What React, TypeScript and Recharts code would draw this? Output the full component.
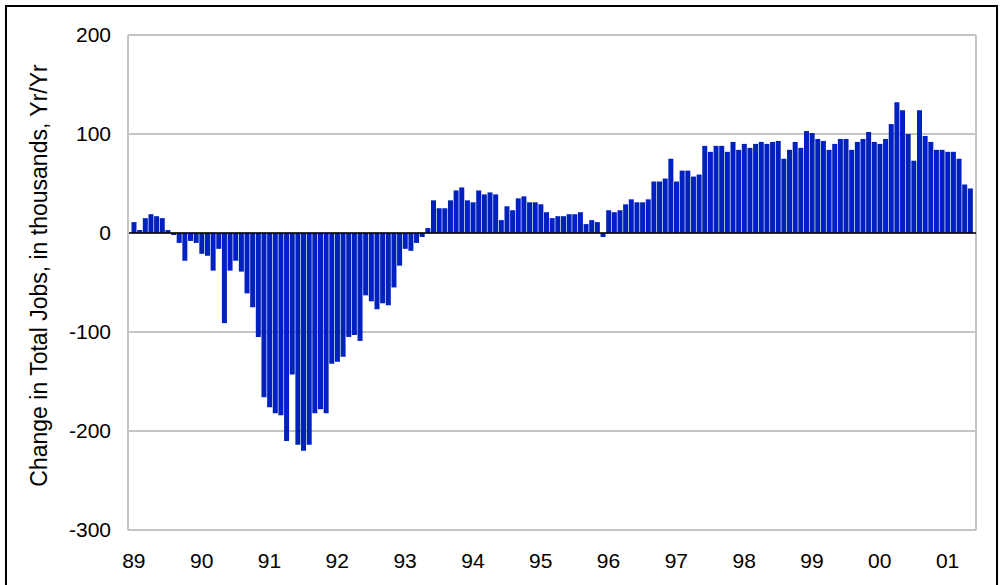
import React from 'react';
import {
  BarChart,
  Bar,
  XAxis,
  YAxis,
  CartesianGrid,
  ReferenceLine,
} from 'recharts';

// two-digit year labels, Jan 89 .. Jan 01
const yearLabels = ['89', '90', '91', '92', '93', '94', '95', '96', '97', '98', '99', '00', '01'];

// change in total jobs, thousands, yr/yr - monthly from Jan 89 to May 01
const jobChange = [
  11, 3, 15, 19, 17, 15, 3, -2, -10, -28, -8, -10,
  -21, -23, -38, -16, -91, -38, -28, -39, -61, -75, -105, -166,
  -176, -182, -184, -210, -143, -214, -220, -214, -182, -178, -182, -132,
  -130, -125, -105, -103, -109, -63, -69, -77, -71, -73, -55, -33,
  -16, -18, -10, -4, 5, 33, 25, 25, 33, 43, 46, 33,
  31, 43, 39, 41, 39, 13, 27, 23, 35, 37, 31, 31,
  29, 21, 15, 17, 17, 19, 19, 21, 9, 13, 11, -4,
  23, 21, 23, 29, 34, 31, 31, 34, 52, 52, 55, 75,
  52, 63, 63, 57, 59, 88, 82, 88, 88, 82, 92, 84,
  90, 86, 90, 92, 90, 92, 93, 75, 84, 92, 86, 103,
  101, 95, 93, 84, 90, 95, 95, 84, 92, 95, 102, 92,
  90, 95, 110, 132, 124, 100, 73, 124, 98, 92, 84, 84,
  82, 82, 75, 49, 45,
];

const yTicks = [-300, -200, -100, 0, 100, 200];

const data = jobChange.map((value, i) => ({
  month: `${yearLabels[Math.floor(i / 12)]}-${(i % 12) + 1}`,
  value,
}));

const font = '"Liberation Sans", Arial, sans-serif';
const gridColor = '#c4c4c4';

const YLabel = (props: any) => {
  const vb = props.viewBox || { x: 8, y: 35, width: 120, height: 495 };
  const cx = vb.x + 31;
  const cy = vb.y + vb.height / 2 - 7;
  return (
    <text
      x={cx}
      y={cy}
      transform={`rotate(-90, ${cx}, ${cy})`}
      textAnchor="middle"
      dominantBaseline="central"
      style={{ fontSize: 23, fontFamily: font, fill: '#000' }}
    >
      Change in Total Jobs, in thousands, Yr/Yr
    </text>
  );
};

export default function App() {
  return (
    <div style={{ position: 'absolute', left: 0, top: 0, width: 1003, height: 585, overflow: 'hidden', background: '#fff' }}>
      <div
        style={{
          position: 'absolute',
          left: 5,
          top: 5,
          width: 993,
          height: 700,
          border: '2px solid #000',
          boxSizing: 'border-box',
        }}
      />
      <div style={{ position: 'absolute', left: 0, top: 0 }}>
        <BarChart
          width={1003}
          height={585}
          data={data}
          margin={{ top: 35, right: 27, bottom: 25, left: 8 }}
          barCategoryGap={0.5}
        >
          <CartesianGrid
            stroke={gridColor}
            strokeWidth={2}
            verticalCoordinatesGenerator={({ offset }: any) => [offset.left, offset.left + offset.width]}
          />
          <XAxis
            dataKey="month"
            interval={11}
            tickFormatter={(v: string) => v.split('-')[0]}
            tickLine={false}
            axisLine={{ stroke: gridColor, strokeWidth: 2 }}
            tickMargin={17}
            padding={{ left: 3, right: 3 }}
            tick={{ fontSize: 21, fontFamily: font, fill: '#000' }}
          />
          <YAxis
            width={120}
            domain={[-300, 200]}
            ticks={yTicks}
            tickLine={false}
            axisLine={{ stroke: gridColor, strokeWidth: 2 }}
            tickMargin={11}
            tick={{ fontSize: 21, fontFamily: font, fill: '#000' }}
            label={{ content: YLabel }}
          />
          <Bar dataKey="value" fill="#0020c0" isAnimationActive={false} />
          <ReferenceLine y={0} stroke="#000" strokeWidth={1.5} />
        </BarChart>
      </div>
    </div>
  );
}
